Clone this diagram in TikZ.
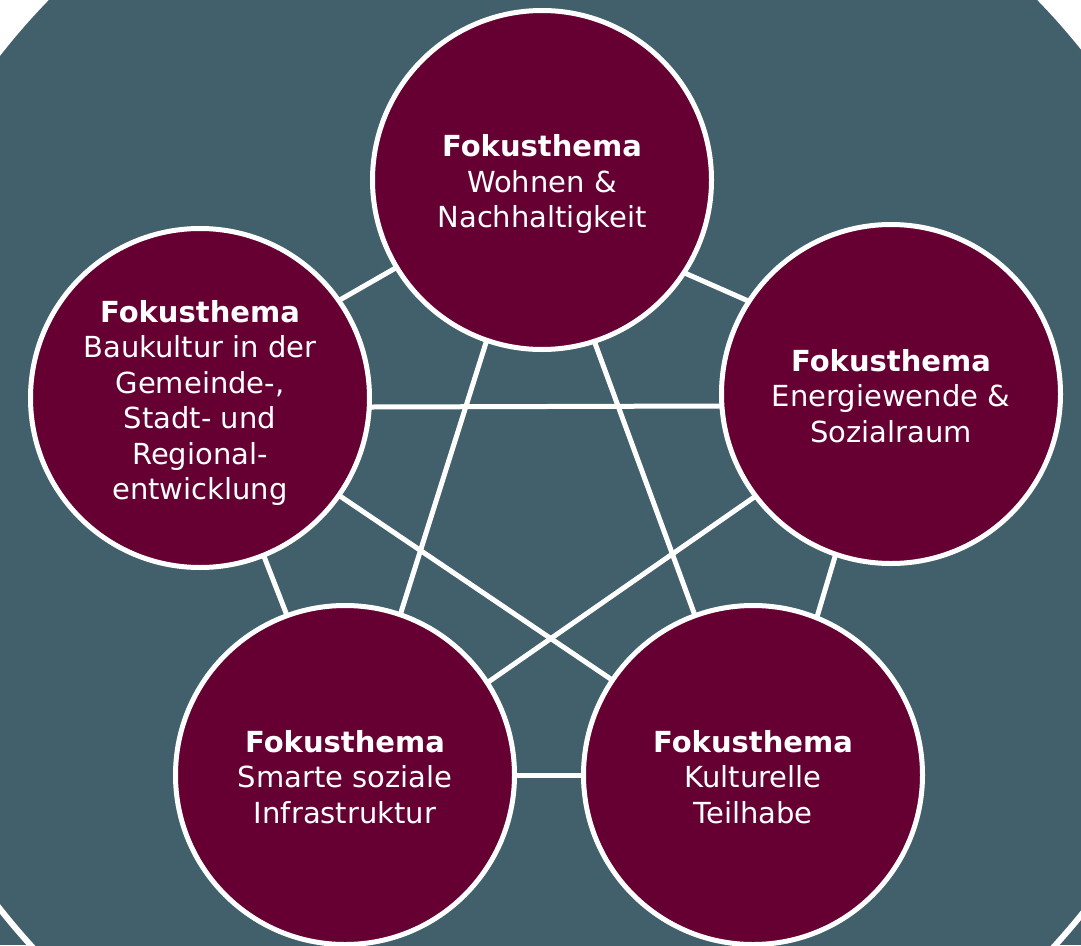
\documentclass[tikz,border=0pt]{standalone}
\usepackage{fontspec}
\setmainfont{DejaVu Sans}
\usetikzlibrary{backgrounds}
\definecolor{slate}{HTML}{425F6C}
\definecolor{wine}{HTML}{660033}
\begin{document}
\begin{tikzpicture}[x=1pt,y=-1pt,
  topic/.style={circle, fill=wine, draw=white, line width=5pt, minimum size=339pt,
    inner sep=0pt},
  caption/.style={text=white, align=center, inner sep=0pt,
    font=\fontsize{29}{35.5}\selectfont},
  link/.style={draw=white, line width=5pt, shorten <=-20pt, shorten >=-20pt}]
\useasboundingbox (0,0) rectangle (1081,945);
\node[topic] (wohnen) at (542,180) {};
\node[topic] (bau) at (200,398) {};
\node[topic] (energie) at (891,394) {};
\node[topic] (smart) at (345,775) {};
\node[topic] (kultur) at (753,775) {};
\node[caption] (twohnen) at ([yshift=-4pt]wohnen.center) {\textbf{Fokusthema}\\Wohnen \&\\Nachhaltigkeit};
\node[caption] (tbau) at ([yshift=-5pt]bau.center) {\textbf{Fokusthema}\\Baukultur in der\\Gemeinde-,\\Stadt- und\\Regional-\\entwicklung};
\node[caption] (tenergie) at ([yshift=-2pt]energie.center) {\textbf{Fokusthema}\\Energiewende \&\\Sozialraum};
\node[caption] (tsmart) at ([yshift=-2pt]smart.center) {\textbf{Fokusthema}\\Smarte soziale\\Infrastruktur};
\node[caption] (tkultur) at ([yshift=-2pt]kultur.center) {\textbf{Fokusthema}\\Kulturelle\\Teilhabe};
\begin{pgfonlayer}{background}
\fill[slate] (0,480) rectangle (1081,945);
\draw[fill=slate, draw=white, line width=6pt] (543,480) circle[radius=692];
\draw[link] (wohnen.211) -- (bau.35);
\draw[link] (wohnen.327) -- (energie.147);
\draw[link] (bau.357.3) -- (energie.184.8);
\draw[link] (bau.292) -- (smart.110);
\draw[link] (energie.251.4) -- (kultur.68.3);
\draw[link] (smart.0) -- (kultur.180);
\draw[link] (wohnen.251.8) -- (smart.71.6);
\draw[link] (wohnen.288.5) -- (kultur.110.5);
\draw[link] (bau.325) -- (kultur.146);
\draw[link] (energie.217) -- (smart.33);
\end{pgfonlayer}
\end{tikzpicture}
\end{document}
